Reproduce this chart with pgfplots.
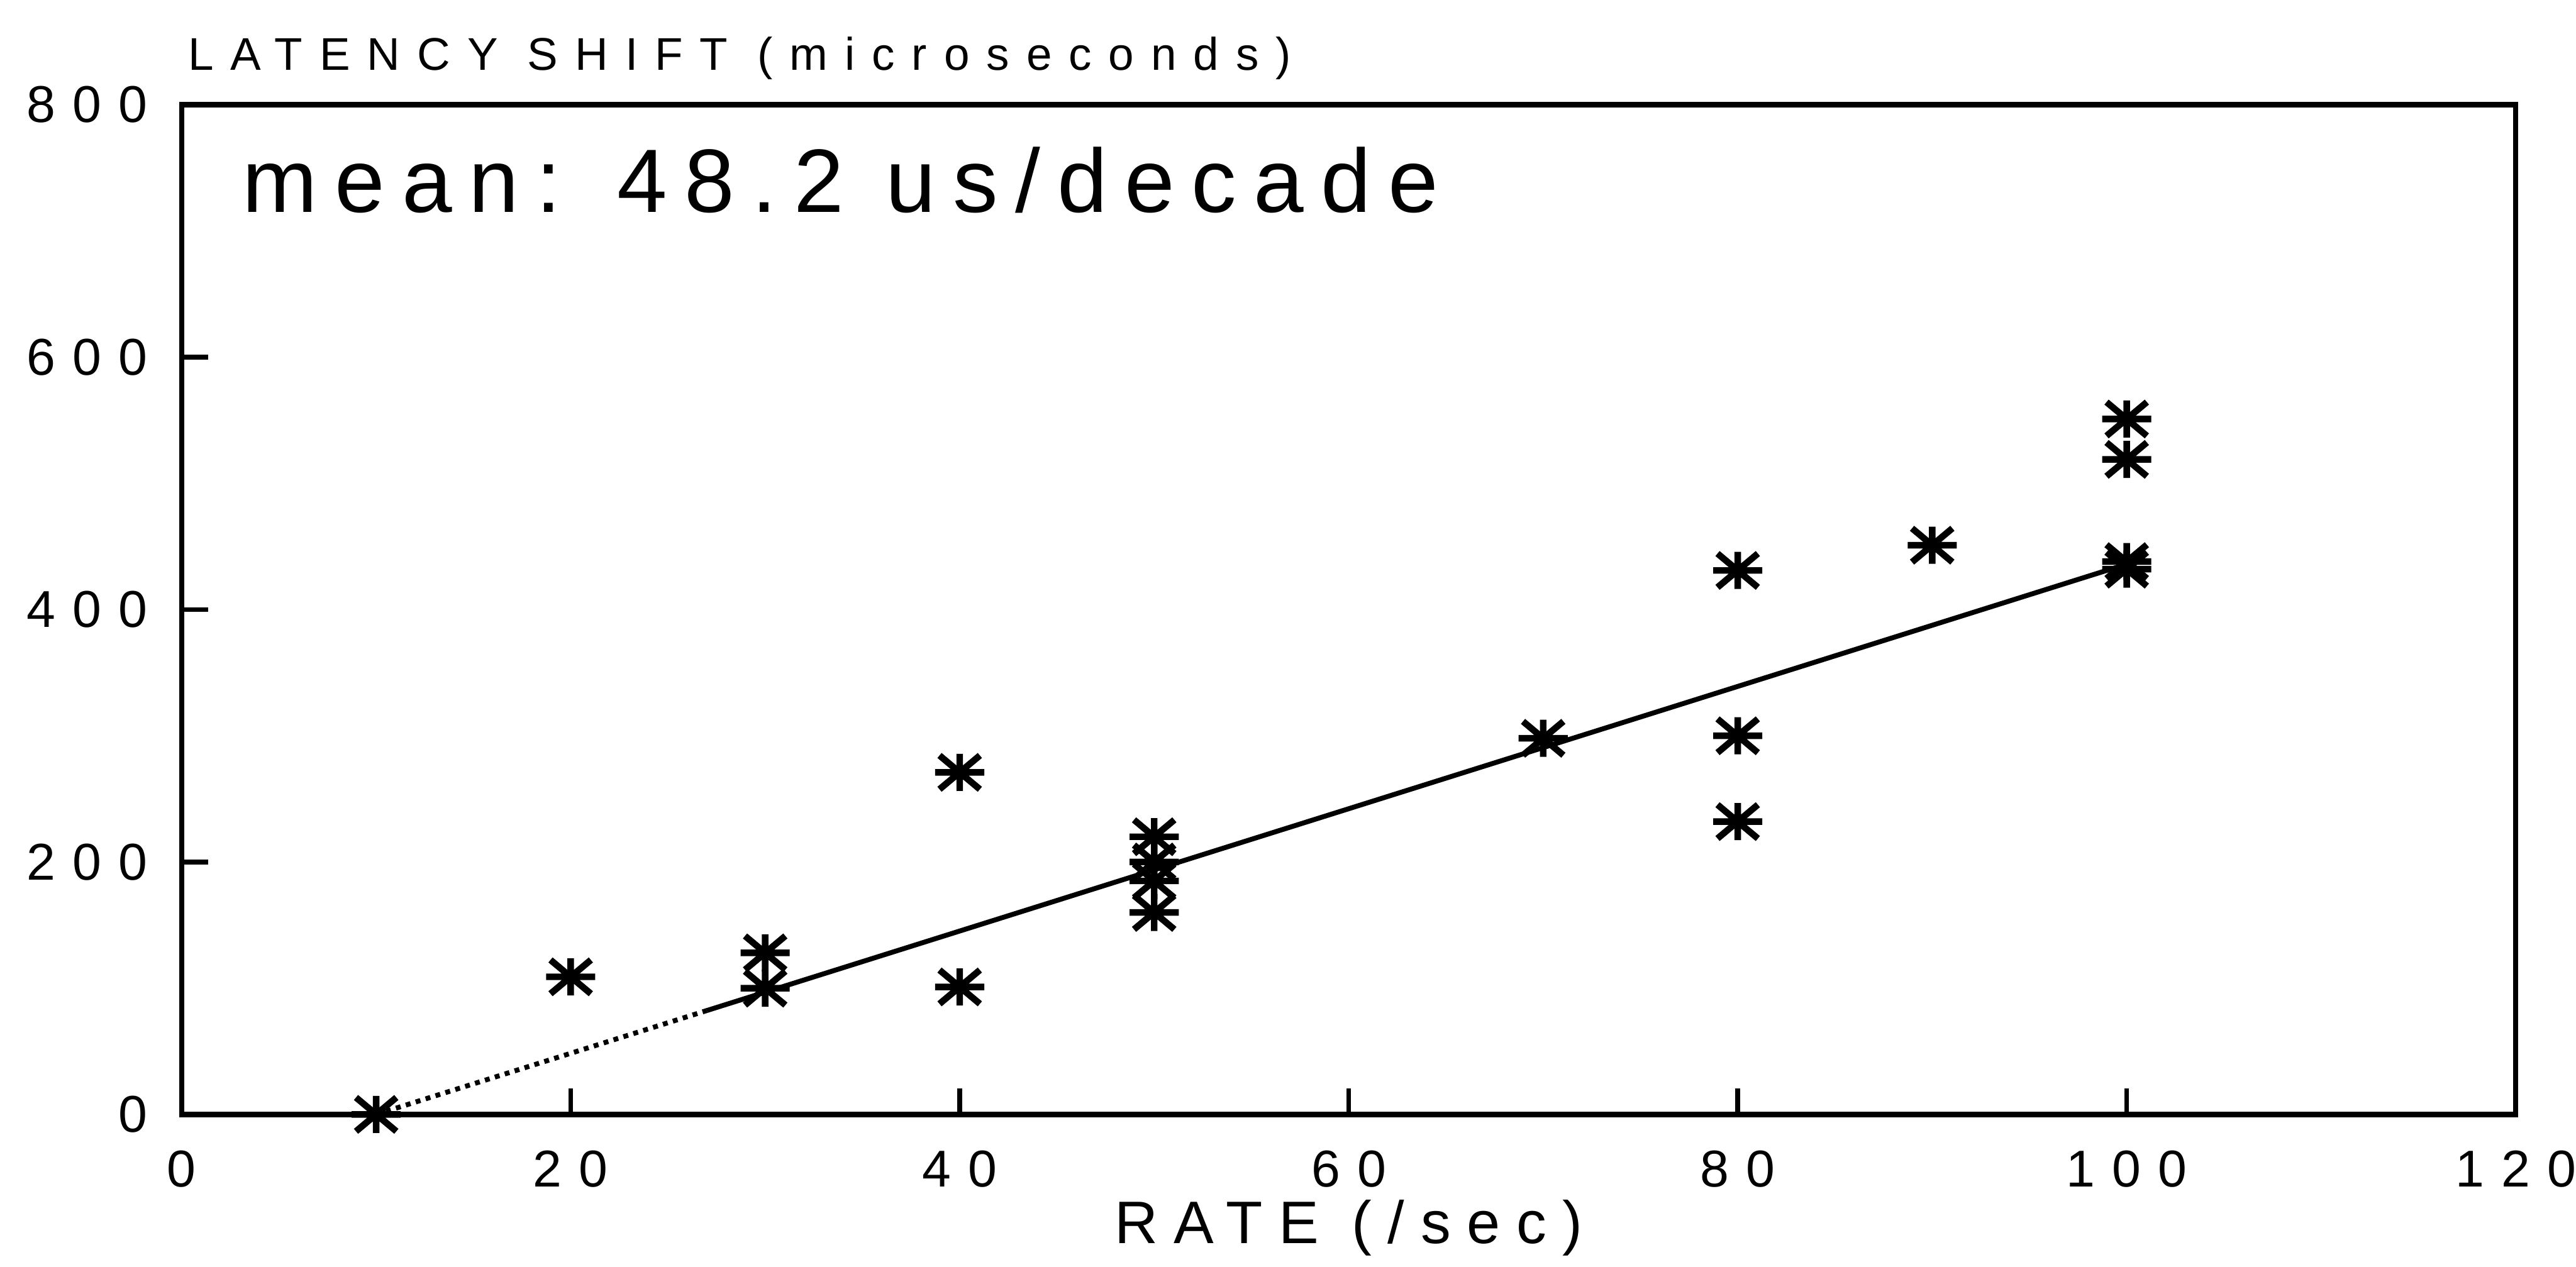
\documentclass[border=0pt]{standalone}
\usepackage{fontspec}
\setmainfont{Liberation Sans}
\newfontfamily\tickfont[LetterSpace=33]{Liberation Sans}
\newfontfamily\labfont[LetterSpace=37]{Liberation Sans}
\newfontfamily\xlabfont[LetterSpace=27]{Liberation Sans}
\newfontfamily\meanfont[LetterSpace=19]{Liberation Sans}
\usepackage{pgfplots}
\pgfplotsset{compat=1.18}
\pgfdeclareplotmark{star8}{%
  \pgfpathmoveto{\pgfqpoint{-4.5pt}{0pt}}\pgfpathlineto{\pgfqpoint{4.5pt}{0pt}}%
  \pgfpathmoveto{\pgfqpoint{0pt}{-3.4pt}}\pgfpathlineto{\pgfqpoint{0pt}{3.4pt}}%
  \pgfpathmoveto{\pgfqpoint{-3.7pt}{-3.1pt}}\pgfpathlineto{\pgfqpoint{3.7pt}{3.1pt}}%
  \pgfpathmoveto{\pgfqpoint{-3.7pt}{3.1pt}}\pgfpathlineto{\pgfqpoint{3.7pt}{-3.1pt}}%
  \pgfusepathqstroke}
\begin{document}
\begin{tikzpicture}
\begin{axis}[
  scale only axis, width=427.8pt, height=185.1pt,
  xmin=0, xmax=120, ymin=0, ymax=800,
  xtick={0,20,40,60,80,100,120}, xticklabels={0,20,40,60,80,100,120},
  ytick={0,200,400,600,800}, yticklabels={0,200,400,600,800},
  xtick pos=lower, ytick pos=left,
  tick align=inside, major tick length=4.8pt,
  every axis/.append style={line width=1pt},
  every tick/.style={line width=0.9pt, black},
  ticklabel style={font=\tickfont\fontsize{9.5}{10}\selectfont, inner sep=0pt},
  xticklabel shift=6.2pt, yticklabel shift=5.8pt,
  clip=false,
]
\addplot[only marks, mark=star8, mark options={line width=1.2pt}] coordinates {
  (10,0)
  (20,109)
  (30,128) (30,100)
  (40,271) (40,101)
  (50,220) (50,200) (50,185) (50,160)
  (70,298)
  (80,431) (80,300) (80,232)
  (90,451)
  (100,551) (100,519) (100,438) (100,432)
};
\addplot[line width=0.9pt, densely dotted, no marks] coordinates {(10,0) (27,82.3)};
\addplot[line width=0.9pt, no marks] coordinates {(27,82.3) (100,436)};
\node[anchor=base west, inner sep=0pt, font=\meanfont\fontsize{16.5}{18}\selectfont] at (axis cs:3,715) {mean: 48.2 us/decade};
\node[anchor=base west, inner sep=0pt, xshift=0.7pt, yshift=6.3pt, font=\labfont\fontsize{8.4}{10}\selectfont] at (rel axis cs:0,1) {LATENCY SHIFT (microseconds)};
\node[anchor=base, inner sep=0pt, yshift=-23.7pt, font=\xlabfont\fontsize{11}{12}\selectfont] at (rel axis cs:0.5,0) {RATE (/sec)};
\end{axis}
\path ([shift={(-33.3pt,-27.9pt)}]current axis.south west) rectangle ([shift={(9.3pt,19.2pt)}]current axis.north east);
\end{tikzpicture}
\end{document}
